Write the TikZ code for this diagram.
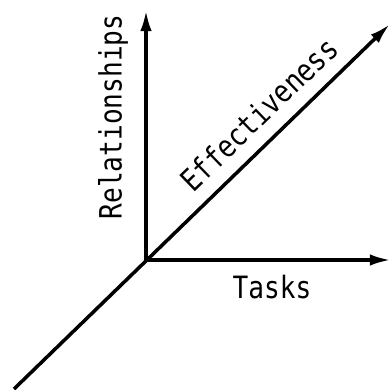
\documentclass[tikz,border=0pt]{standalone}
\usepackage{fontspec}
\newfontfamily\axfont[FakeStretch=0.85]{DejaVu Sans Mono}
\usetikzlibrary{arrows.meta}
\tikzset{axis/.style={line width=2pt,-{Latex[length=12pt,width=6.5pt]}},lbl/.style={font=\axfont\fontsize{17.5}{20}\selectfont,inner sep=0pt}}
\begin{document}
\begin{tikzpicture}[x=0.02cm,y=-0.02cm]
\useasboundingbox(0,0)rectangle(391,389);
\coordinate(o)at(146,260);\coordinate(rel)at(146,10);\coordinate(task)at(391,260);\coordinate(eff)at(390,24);\coordinate(low)at(14,389);
\draw[axis](o)--(rel);\draw[axis](o)--(task);\draw[axis](low)--(eff);
\node[lbl,rotate=90](relL)at(113,117){Relationships};\node[lbl](taskL)at(272,287){Tasks};\node[lbl,rotate=44](effL)at(259,114){Effectiveness};
\end{tikzpicture}
\end{document}
